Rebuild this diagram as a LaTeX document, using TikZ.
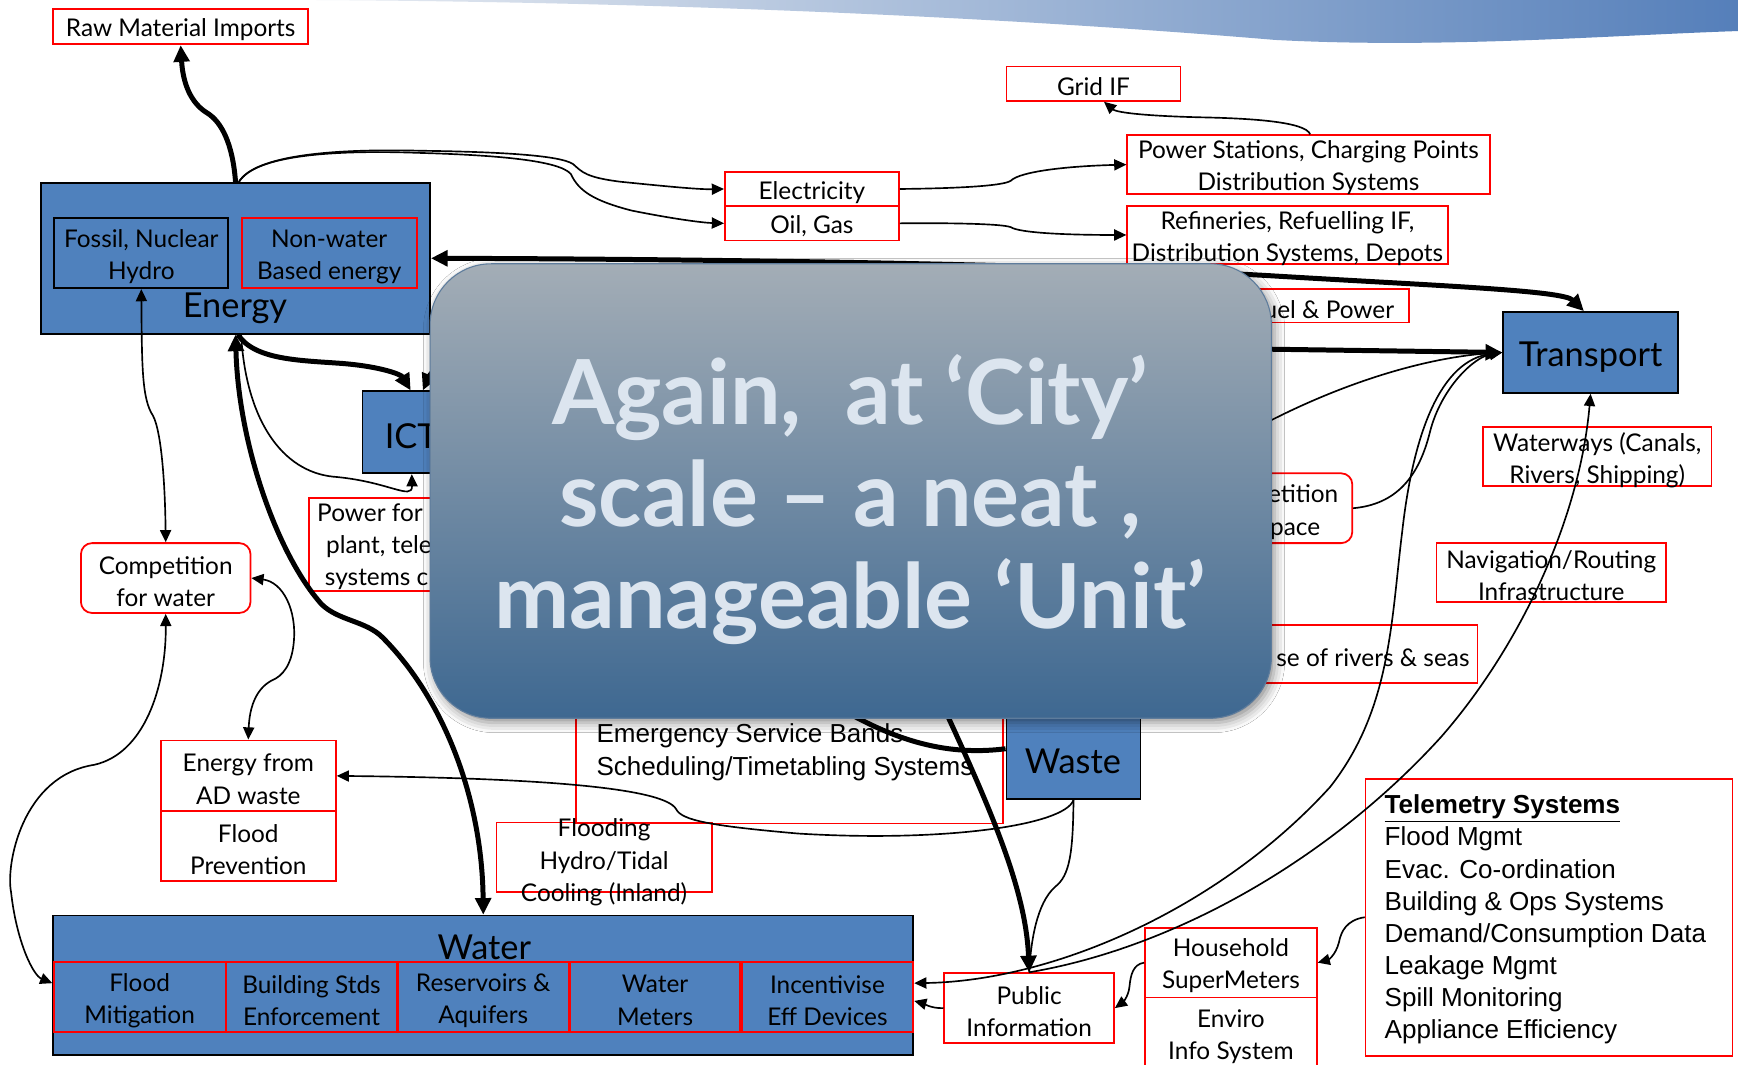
\documentclass[tikz,border=0pt]{standalone}
\usepackage{fontspec}
\setmainfont{Lato}
\newfontfamily\arialf{Liberation Sans}
\usetikzlibrary{arrows.meta,calc,shadows.blur}
\definecolor{boxblue}{HTML}{4F81BD}
\definecolor{rred}{HTML}{FF0000}
\definecolor{ovtop}{HTML}{A3ADB6}
\definecolor{ovbot}{HTML}{3E6891}
\definecolor{ovedge}{HTML}{5E7C9C}
\definecolor{ovtext}{HTML}{DCE5EF}
\definecolor{banL}{HTML}{E8ECF2}
\definecolor{banR}{HTML}{557FBA}
\tikzset{
  fnt/.style={font=\fontsize{22}{29}\selectfont},
  rbox/.style={draw=rred, line width=1.6pt, fill=white, inner sep=0pt},
  rrbox/.style={rbox, rounded corners=10pt},
  bbox/.style={draw=black, line width=1.6pt, fill=boxblue, inner sep=0pt},
  sbox/.style={draw=rred, line width=1.8pt, fill=boxblue, inner sep=0pt},
  kbox/.style={draw=black, line width=1.6pt, inner sep=0pt},
  txt/.style={inner sep=0pt, align=center, fnt, yshift=-3pt},
  ltxt/.style={inner sep=0pt, align=left, fnt},
  atxt/.style={inner sep=0pt, align=left, font=\arialf\fontsize{23.5}{29}\selectfont},
  big/.style={inner sep=0pt, font=\fontsize{31}{36}\selectfont},
  thin/.style={line width=1.5pt, >={Triangle[length=11pt,width=10pt]}},
  thk/.style={line width=4.5pt, >={Triangle[length=15pt,width=14pt]}},
}
\begin{document}
\begin{tikzpicture}[x=1pt,y=-1pt]
\useasboundingbox (0,0) rectangle (1568,960);
\fill[white] (0,0) rectangle (1568,960);
% top banner
\shade[left color=banL, right color=banR] (285,0) .. controls (600,2) and (900,15) .. (1150,36) .. controls (1300,44) and (1450,32) .. (1568,28) -- (1568,0) -- cycle;

% ---------- boxes ----------
\node[rbox, minimum width=230pt, minimum height=32pt] (raw) at (163,24) {};
\node[txt] at (raw) {Raw Material Imports};

\node[bbox, minimum width=351pt, minimum height=136pt] (energy) at (212.5,233) {};
\node[kbox, minimum width=157pt, minimum height=63pt] (fossil) at (127.5,228.5) {};
\node[txt] at (fossil) {Fossil, Nuclear\\Hydro};
\node[rbox, fill=none, minimum width=158pt, minimum height=63pt] (nonwater) at (297,228.5) {};
\node[txt] at (nonwater) {Non-water\\Based energy};
\node[big, anchor=base] at (212,286) {Energy};

\node[rbox, minimum width=157pt, minimum height=31pt] (gridif) at (986.5,75.5) {};
\node[txt] at (gridif) {Grid IF};
\node[rbox, minimum width=157pt, minimum height=31pt] (elec) at (732.5,170.5) {};
\node[txt] at (elec) {Electricity};
\node[rbox, minimum width=157pt, minimum height=31pt] (oil) at (732.5,201.5) {};
\node[txt] at (oil) {Oil, Gas};
\node[rbox, minimum width=327pt, minimum height=53pt] (powst) at (1180.5,148.5) {};
\node[txt] at (powst) {Power Stations, Charging Points\\Distribution Systems};
\node[rbox, minimum width=289pt, minimum height=52pt] (refin) at (1161.5,212) {};
\node[txt] at (refin) {Refineries, Refuelling IF,\\Distribution Systems, Depots};
\node[rbox, minimum width=161pt, minimum height=30pt] (fuel) at (1190.5,276) {};
\node[txt, anchor=east] at (1258,276) {uel \& Power};

\node[bbox, minimum width=93pt, minimum height=74pt] (ict) at (373.5,390) {};
\node[big, anchor=base west] at (347,405) {ICT};

\node[rbox, minimum width=141pt, minimum height=84pt] (powfor) at (349.5,491) {};
\node[ltxt, anchor=north west] at (286,454) {Power for\\\hspace*{8pt}plant, tele\\\hspace*{7pt}systems c};

\node[rrbox, minimum width=153pt, minimum height=63pt] (compw) at (149.5,521.5) {};
\node[txt] at (compw) {Competition\\for water};

\node[rbox, minimum width=158pt, minimum height=64pt] (adw) at (224,700) {};
\node[txt] at (adw) {Energy from\\AD waste};
\node[rbox, minimum width=158pt, minimum height=63pt] (floodp) at (224,763.5) {};
\node[txt] at (floodp) {Flood\\Prevention};

\node[bbox, minimum width=776pt, minimum height=126pt] (water) at (436,889) {};
\node[big, anchor=base] at (437,866) {Water};
\node[sbox, minimum width=155pt, minimum height=63pt] (w1) at (126,899.5) {};
\node[txt] at (w1) {Flood\\Mitigation};
\node[sbox, minimum width=154pt, minimum height=63pt] (w2) at (281,899.5) {};
\node[txt] at (w2) {Building Stds\\Enforcement};
\node[sbox, minimum width=154pt, minimum height=63pt] (w3) at (436,899.5) {};
\node[txt] at (w3) {Reservoirs \&\\Aquifers};
\node[sbox, minimum width=154pt, minimum height=63pt] (w4) at (591,899.5) {};
\node[txt] at (w4) {Water\\Meters};
\node[sbox, minimum width=155pt, minimum height=63pt] (w5) at (746.5,899.5) {};
\node[txt] at (w5) {Incentivise\\Eff Devices};

\node[rbox, minimum width=385pt, minimum height=123pt] (emerg) at (712.5,681.5) {};
\node[atxt, anchor=north west] at (538,653) {Emergency Service Bands\\Scheduling/Timetabling Systems};

\node[rbox, fill=none, minimum width=194pt, minimum height=63pt] (floodh) at (545,773.5) {};
\node[txt] at (545,775) {Flooding\\Hydro/Tidal\\Cooling (Inland)};

\node[bbox, minimum width=121pt, minimum height=91pt] (waste) at (968.5,675.5) {};
\node[big, anchor=base] at (968,698) {Waste};

\node[rbox, minimum width=153pt, minimum height=63pt] (pubinfo) at (928.5,909.5) {};
\node[txt] at (pubinfo) {Public\\Information};

\node[rbox, minimum width=155pt, minimum height=63pt] (househ) at (1110.5,868.5) {};
\node[txt] at (househ) {Household\\SuperMeters};
\node[rbox, minimum width=155pt, minimum height=66pt] (enviro) at (1110.5,933) {};
\node[txt] at (1110.5,932) {Enviro\\Info System};

\node[rbox, minimum width=331pt, minimum height=250pt] (telem) at (1397.5,827.5) {};
\node[atxt, anchor=north west] at (1249,717)
 {\underline{\textbf{Telemetry Systems}}\\Flood Mgmt\\Evac. Co-ordination\\Building \& Ops Systems\\Demand/Consumption Data\\Leakage Mgmt\\Spill Monitoring\\Appliance Efficiency};

\node[bbox, minimum width=158pt, minimum height=73pt] (transport) at (1435,318) {};
\node[big, anchor=base] at (1435,331) {Transport};

\node[rbox, minimum width=206pt, minimum height=53pt] (waterways) at (1441,412) {};
\node[txt] at (waterways) {Waterways (Canals,\\Rivers, Shipping)};
\node[rbox, minimum width=207pt, minimum height=53pt] (navig) at (1399.5,516.5) {};
\node[txt] at (navig) {Navigation/Routing\\Infrastructure};
\node[rrbox, minimum width=120pt, minimum height=63pt] (compsp) at (1160,458.5) {};
\node[txt] at (1147,459) {Competition\\for space};
\node[rbox, minimum width=223pt, minimum height=52pt] (rivers) at (1221.5,590) {};
\node[txt, anchor=east] at (1326,590) {se of rivers \& seas};

% hidden ends (under the overlay)
\coordinate (h1) at (1100,405);
\coordinate (h2) at (815,560);
\coordinate (h3) at (700,600);

% ---------- connectors ----------
% raw material imports
\draw[thk,->] (energy.north) .. controls (210,130) and (200,110) .. (187,102) .. controls (172,93) and (165,75) .. (raw.south);
% electricity / oil
\draw[thin,->] ([xshift=3pt]energy.north) .. controls (230,140) and (300,134) .. (380,136) .. controls (450,137) and (505,140) .. (517,148) .. controls (525,155) and (528,160) .. (560,164) .. controls (600,168) and (630,171) .. (elec.west);
\draw[thin,->] ([xshift=3pt]energy.north) .. controls (230,140) and (300,135) .. (380,138) .. controls (450,140) and (505,145) .. (515,157) .. controls (522,172) and (535,181) .. (570,190) .. controls (610,198) and (635,201) .. (oil.west);
\draw[thin,->] (elec.east) .. controls (860,170) and (905,168) .. (912,163) .. controls (920,155) and (960,150) .. (powst.west);
\draw[thin,->] (oil.east) .. controls (860,201) and (905,202) .. (912,205) .. controls (920,210) and (960,212) .. (refin.west);
\draw[thin,->] ([xshift=1.5pt]powst.north) .. controls (1178,110) and (1130,107) .. (1090,106) .. controls (1040,105) and (1008,102) .. ([xshift=9.5pt]gridif.south);
% energy <-> transport
\draw[thk,<->] (energy.east) .. controls (700,234) and (1000,240) .. (1150,249) .. controls (1300,258) and (1410,262) .. ([xshift=-6pt]transport.north);
% ICT <-> transport
\draw[thk,<->] ([xshift=8pt]ict.north) .. controls (400,310) and (700,312) .. (1000,313) -- (transport.west);
\draw[thin,->] (h1) .. controls (1200,345) and (1290,322) .. (transport.west);
\draw[thin,->] (compsp.east) .. controls (1260,455) and (1280,430) .. (1290,390) .. controls (1300,350) and (1330,322) .. (transport.west);
% water <-> transport and public information -> transport
\draw[thin,<->] ($(water.east)+(0,-2)$) .. controls (950,885) and (1100,820) .. (1200,710) .. controls (1255,640) and (1255,560) .. (1265,480) .. controls (1275,390) and (1300,325) .. (transport.west);
\draw[thin,->] (pubinfo.north) .. controls (1060,855) and (1200,775) .. (1300,665) .. controls (1370,585) and (1425,470) .. (transport.south);
% energy bottom
\draw[thk,<->] (energy.south) .. controls (215,400) and (250,500) .. (290,545) .. controls (305,560) and (330,560) .. (345,575) .. controls (400,630) and (435,720) .. (water.north);
\draw[thk,->] ([xshift=2pt]energy.south) .. controls (230,325) and (270,325) .. (310,328) .. controls (345,331) and (362,338) .. ([xshift=-3pt]ict.north);
\draw[thin,->] ([xshift=5pt]energy.south) .. controls (222,380) and (255,425) .. (300,430) .. controls (350,434) and (372,452) .. ([xshift=-2pt]ict.south);
% competition for water
\draw[thin,<->] (fossil.south) .. controls (128,330) and (128,360) .. (138,375) .. controls (146,390) and (149,440) .. (compw.north);
\draw[thin,<->] (compw.south) .. controls (150,620) and (130,680) .. (85,690) .. controls (20,700) and (5,780) .. (10,805) .. controls (15,850) and (30,880) .. ($(water.west)+(0,-2)$);
\draw[thin,<->] (compw.east) .. controls (255,525) and (268,550) .. (265,580) .. controls (263,600) and (255,610) .. (245,614) .. controls (230,622) and (225,640) .. (adw.north);
% waste
\draw[thk] (h3) .. controls (780,660) and (840,684) .. (waste.west);
\draw[thk,->] (h2) .. controls (880,700) and (925,790) .. (pubinfo.north);
\draw[thin] (waste.south) .. controls (968,770) and (965,790) .. (952,800) .. controls (935,815) and (930,850) .. (pubinfo.north);
\draw[thin,->] (waste.south) .. controls (960,745) and (850,760) .. (720,752) .. controls (640,745) and (615,740) .. (610,730) .. controls (600,712) and (500,702) .. (adw.east);
% small arrows at the bottom right
\draw[thin,->] (telem.west) .. controls (1215,830) and (1210,840) .. (1208,850) .. controls (1205,862) and (1198,866) .. (househ.east);
\draw[thin,->] (househ.west) .. controls (1022,870) and (1020,880) .. (1019,890) .. controls (1018,900) and (1012,905) .. (pubinfo.east);
\draw[thin,->] (pubinfo.west) .. controls (840,910) and (832,905) .. ($(water.east)+(0,14)$);

% ---------- overlay ----------
\path[rounded corners=55pt, top color=ovtop, bottom color=ovbot, draw=ovedge, line width=1pt,
  blur shadow={shadow xshift=3pt, shadow yshift=-4pt, shadow blur radius=9pt, shadow opacity=45}]
  (388,238) rectangle (1147,648);
\node[inner sep=0pt, align=center, anchor=north, text=ovtext, font=\bfseries\fontsize{81}{92}\selectfont] (ovtxt) at (767,320)
 {Again,~ at ‘City’\\scale – a neat ,\\manageable ‘Unit’};
\end{tikzpicture}
\end{document}
